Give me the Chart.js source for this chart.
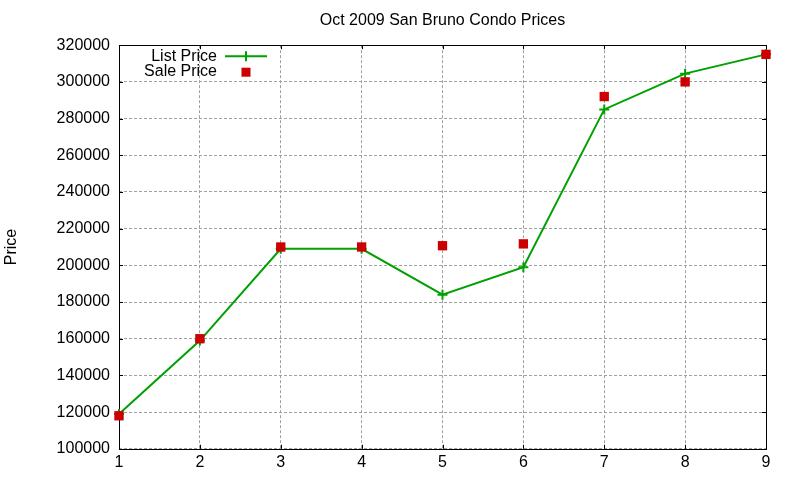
<!DOCTYPE html>
<html>
<head>
<meta charset="utf-8">
<script src="https://cdn.jsdelivr.net/npm/chart.js@4.4.1/dist/chart.umd.min.js"></script>
<style>
  html, body { margin: 0; padding: 0; background: #fff; }
  #wrap { width: 800px; height: 480px; }
</style>
</head>
<body>
<div id="wrap"><canvas id="chart" width="800" height="480"></canvas></div>
<script>
// data
const categories = [1, 2, 3, 4, 5, 6, 7, 8, 9];
const listPrice = [119000, 159000, 209000, 209000, 184000, 199000, 285000, 304500, 315000];
const salePrice = [118000, 160000, 210000, 210000, 210700, 211700, 292000, 300000, 315000];
const yTicks = [100000, 120000, 140000, 160000, 180000, 200000, 220000, 240000, 260000, 280000, 300000, 320000];

const FONT = 'Liberation Sans, Arial, sans-serif';
const GREEN = '#00a000';
const RED = '#cc0000';

Chart.defaults.font.family = FONT;
Chart.defaults.color = '#000';

// gnuplot style frame: box around the plot with inward ticks on every side
const framePlugin = {
    id: 'frame',
    beforeDatasetsDraw(chart) {
        const { ctx, chartArea: a, scales } = chart;
        ctx.save();
        ctx.strokeStyle = '#000';
        ctx.lineWidth = 1;
        ctx.strokeRect(Math.round(a.left) + 0.5, Math.round(a.top) + 0.5,
            Math.round(a.right - a.left), Math.round(a.bottom - a.top));
        const len = 4;
        ctx.beginPath();
        scales.x.ticks.forEach(t => {
            const px = Math.round(scales.x.getPixelForValue(t.value)) + 0.5;
            ctx.moveTo(px, a.bottom); ctx.lineTo(px, a.bottom - len);
            ctx.moveTo(px, a.top); ctx.lineTo(px, a.top + len);
        });
        scales.y.ticks.forEach(t => {
            const py = Math.round(scales.y.getPixelForValue(t.value)) + 0.5;
            ctx.moveTo(a.left, py); ctx.lineTo(a.left + len, py);
            ctx.moveTo(a.right, py); ctx.lineTo(a.right - len, py);
        });
        ctx.stroke();
        ctx.restore();
    }
};

// legend in the top left corner, text right aligned and sample after it
const keyPlugin = {
    id: 'key',
    afterDraw(chart) {
        const { ctx, chartArea: a } = chart;
        const textRight = a.left + 98;
        const sx0 = a.left + 106, sx1 = a.left + 148, sMid = (sx0 + sx1) / 2;
        ctx.save();
        ctx.font = '16px ' + FONT;
        ctx.textAlign = 'right';
        ctx.textBaseline = 'middle';
        chart.data.datasets.forEach((ds, i) => {
            const y = a.top + 11 + i * 15;
            ctx.fillStyle = '#000';
            ctx.fillText(ds.label, textRight, y);
            if (ds.showLine !== false) {
                ctx.strokeStyle = ds.borderColor;
                ctx.lineWidth = 2;
                ctx.beginPath();
                ctx.moveTo(sx0, y); ctx.lineTo(sx1, y);
                ctx.moveTo(sMid, y - 5); ctx.lineTo(sMid, y + 5);
                ctx.stroke();
            } else {
                ctx.fillStyle = ds.backgroundColor;
                ctx.fillRect(sMid - 4.5, y - 3.5, 9, 9);
            }
        });
        ctx.restore();
    }
};

new Chart(document.getElementById('chart'), {
    type: 'scatter',
    data: {
        datasets: [
            {
                label: 'List Price',
                data: categories.map((c, i) => ({ x: c, y: listPrice[i] })),
                showLine: true,
                borderColor: GREEN,
                backgroundColor: GREEN,
                borderWidth: 2,
                pointStyle: 'cross',
                pointRadius: 5,
                pointBorderWidth: 2,
                tension: 0,
                clip: false,
                order: 1
            },
            {
                label: 'Sale Price',
                data: categories.map((c, i) => ({ x: c, y: salePrice[i] })),
                showLine: false,
                borderColor: RED,
                backgroundColor: RED,
                pointStyle: 'rect',
                pointRadius: 6.6,
                pointBorderWidth: 0,
                clip: false,
                order: 0
            }
        ]
    },
    options: {
        responsive: false,
        animation: false,
        layout: { padding: { left: 0, right: 34, top: 0, bottom: 4 } },
        plugins: {
            legend: { display: false },
            tooltip: { enabled: false },
            title: {
                display: true,
                fullSize: false,
                text: 'Oct 2009 San Bruno Condo Prices',
                color: '#000',
                font: { size: 16, weight: 'normal' },
                padding: { top: 11, bottom: 15 }
            }
        },
        scales: {
            x: {
                type: 'linear',
                min: 1,
                max: 9,
                afterBuildTicks: s => { s.ticks = categories.map(v => ({ value: v })); },
                ticks: { font: { size: 16 }, padding: 4, color: '#000' },
                grid: { color: '#a0a0a0', lineWidth: 1, drawTicks: false },
                border: { display: false, dash: [3, 2] }
            },
            y: {
                min: 100000,
                max: 320000,
                afterBuildTicks: s => { s.ticks = yTicks.map(v => ({ value: v })); },
                afterFit: s => { s.width = 119; },
                ticks: { font: { size: 16 }, padding: 9, color: '#000', callback: v => String(v) },
                grid: { color: '#a0a0a0', lineWidth: 1, drawTicks: false },
                border: { display: false, dash: [3, 2] },
                title: {
                    display: true,
                    text: 'Price',
                    color: '#000',
                    font: { size: 16 },
                    padding: { top: 2, bottom: 0 }
                }
            }
        }
    },
    plugins: [framePlugin, keyPlugin]
});
</script>
</body>
</html>
